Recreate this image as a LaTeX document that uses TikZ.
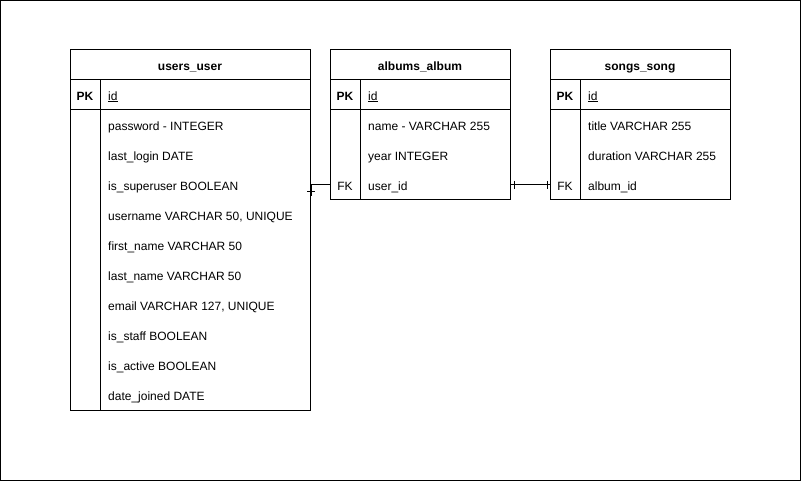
\documentclass[tikz,border=0pt]{standalone}
\usepackage{fontspec}
\setmainfont{Liberation Sans}
\usepackage{tikz}
\usetikzlibrary{positioning}
\definecolor{ColLine}{RGB}{0,0,0}
\tikzstyle{Cell}=[draw=ColLine,rectangle,inner sep=0pt,outer sep=0pt,line width=1pt,
font=\fontsize{12}{14}\selectfont]
\tikzstyle{TableHead}=[Cell,minimum height=30pt,font=\fontsize{12}{14}\selectfont\bfseries]
\tikzstyle{KeyCell}=[Cell,minimum width=30pt]
\tikzstyle{FieldText}=[anchor=west,inner sep=0pt,text height=8.6pt,text depth=0pt,
yshift=-0.8pt,font=\fontsize{12}{14}\selectfont]
\tikzstyle{KeyText}=[inner sep=0pt,text height=8.6pt,text depth=0pt,yshift=-0.8pt,
font=\fontsize{12}{14}\selectfont]
\tikzstyle{HeadText}=[KeyText,font=\fontsize{12}{14}\selectfont\bfseries]
\tikzstyle{EdgeER}=[ColLine,line width=1pt]

\begin{document}
\begin{tikzpicture}[x=1pt,y=-1pt]
        \useasboundingbox (0,0) rectangle (801,481);
        \draw[line width=1pt] (0.5,0.5) rectangle (800.5,480.5);
        % users_user
        \node[TableHead,minimum width=240pt](uHead)at(190,65){};
        \node[KeyCell,minimum height=30pt](uPK)at(85,95){};
        \node[Cell,minimum width=210pt,minimum height=30pt](uId)at(205,95){};
        \node[KeyCell,minimum height=300pt](uKeys)at(85,260){};
        \node[Cell,minimum width=210pt,minimum height=300pt](uFields)at(205,260){};
        \node[HeadText](uHeadt)at(uHead){users\_user};
        \node[HeadText](uPKt)at(uPK){PK};
        \node[FieldText](uIdt)at(108,95){\underline{id}};
        \node[FieldText](u1)at(108,125){password - INTEGER};
        \node[FieldText](u2)at(108,155){last\_login DATE};
        \node[FieldText](u3)at(108,185){is\_superuser BOOLEAN};
        \node[FieldText](u4)at(108,215){username VARCHAR 50, UNIQUE};
        \node[FieldText](u5)at(108,245){first\_name VARCHAR 50};
        \node[FieldText](u6)at(108,275){last\_name VARCHAR 50};
        \node[FieldText](u7)at(108,305){email VARCHAR 127, UNIQUE};
        \node[FieldText](u8)at(108,335){is\_staff BOOLEAN};
        \node[FieldText](u9)at(108,365){is\_active BOOLEAN};
        \node[FieldText](u10)at(108,395){date\_joined DATE};
        % albums_album
        \node[TableHead,minimum width=180pt](aHead)at(420,65){};
        \node[KeyCell,minimum height=30pt](aPK)at(345,95){};
        \node[Cell,minimum width=150pt,minimum height=30pt](aId)at(435,95){};
        \node[KeyCell,minimum height=90pt](aKeys)at(345,155){};
        \node[Cell,minimum width=150pt,minimum height=90pt](aFields)at(435,155){};
        \node[HeadText](aHeadt)at(aHead){albums\_album};
        \node[HeadText](aPKt)at(aPK){PK};
        \node[FieldText](aIdt)at(368,95){\underline{id}};
        \node[FieldText](a1)at(368,125){name - VARCHAR 255};
        \node[FieldText](a2)at(368,155){year INTEGER};
        \node[KeyText](aFK)at(345,185){FK};
        \node[FieldText](a3)at(368,185){user\_id};
        % songs_song
        \node[TableHead,minimum width=180pt](sHead)at(640,65){};
        \node[KeyCell,minimum height=30pt](sPK)at(565,95){};
        \node[Cell,minimum width=150pt,minimum height=30pt](sId)at(655,95){};
        \node[KeyCell,minimum height=90pt](sKeys)at(565,155){};
        \node[Cell,minimum width=150pt,minimum height=90pt](sFields)at(655,155){};
        \node[HeadText](sHeadt)at(sHead){songs\_song};
        \node[HeadText](sPKt)at(sPK){PK};
        \node[FieldText](sIdt)at(588,95){\underline{id}};
        \node[FieldText](s1)at(588,125){title VARCHAR 255};
        \node[FieldText](s2)at(588,155){duration VARCHAR 255};
        \node[KeyText](sFK)at(565,185){FK};
        \node[FieldText](s3)at(588,185){album\_id};
        % relations
        \coordinate(uJoin)at(311,196);
        \draw[EdgeER](aKeys.west|-0,185)-|(uJoin);
        \draw[EdgeER](307,192)--(315,192);
        \draw[EdgeER](aFields.east|-0,185)--(sKeys.west|-0,185);
        \draw[EdgeER](514,181)--(514,189);
        \draw[EdgeER](547,181)--(547,189);
    \end{tikzpicture}
\end{document}
